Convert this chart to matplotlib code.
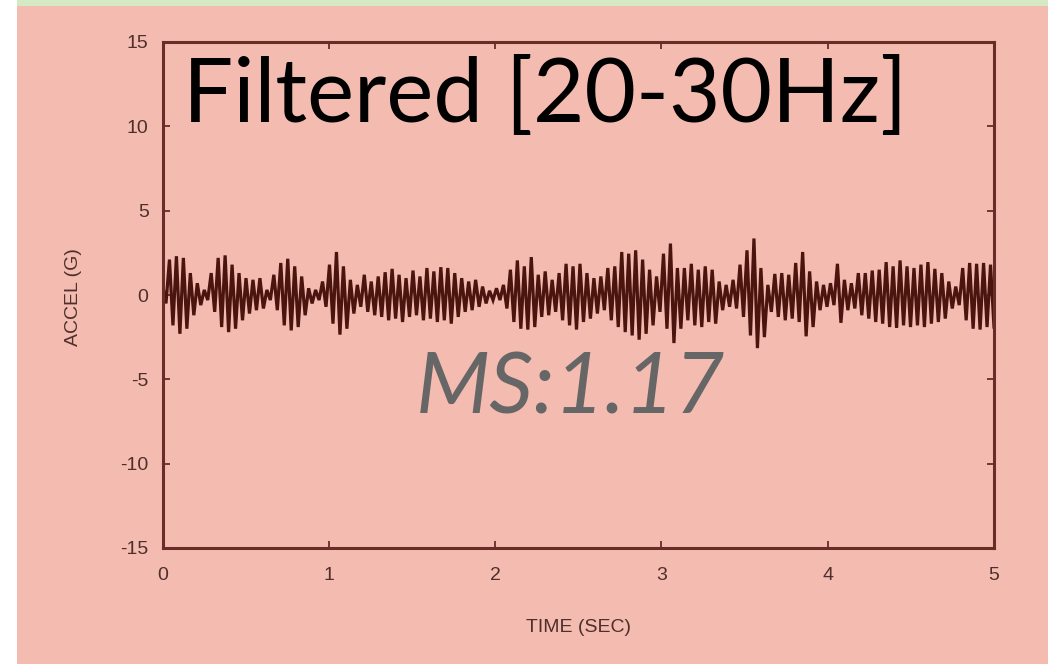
import numpy as np
import matplotlib
matplotlib.use("Agg")
import matplotlib.pyplot as plt
from matplotlib.patches import Rectangle

plt.rcParams["axes.unicode_minus"] = False

# ---- data ----
TIME_RANGE = (0.0, 5.0)
# positive peaks of each oscillation cycle (G)
peak_hi = [0.6, 2.1, 2.3, 2.2, 1.3, 0.7, 0.3, 1.3, 2.2, 2.35,
           1.8, 1.3, 1.0, 0.9, 1.0, 0.3, 1.2, 1.9, 2.15, 1.7,
           1.1, 0.4, 0.3, 0.8, 1.8, 2.55, 1.7, 0.9, 0.6, 1.2,
           0.8, 1.1, 1.35, 1.55, 1.2, 1.0, 1.45, 1.1, 1.6, 1.4,
           1.65, 1.6, 1.3, 1.0, 0.8, 0.9, 0.5, 0.25, 0.4, 0.6,
           1.5, 2.05, 1.7, 2.25, 1.2, 1.4, 0.9, 1.3, 1.85, 1.7,
           1.85, 1.3, 1.0, 1.1, 1.6, 1.7, 2.55, 2.45, 2.65, 2.1,
           1.5, 1.1, 2.45, 3.05, 1.6, 1.6, 1.85, 1.5, 1.7, 1.5,
           0.8, 0.6, 0.9, 1.8, 2.65, 3.35, 1.6, 0.6, 1.25, 1.3,
           1.2, 1.9, 2.55, 1.4, 0.8, 0.6, 0.7, 1.85, 0.9, 0.7,
           1.3, 1.3, 1.45, 1.5, 1.95, 1.7, 2.05, 1.7, 1.6, 1.8,
           1.95, 1.55, 1.3, 0.8, 0.5, 1.6, 1.9, 1.85, 1.9, 1.8]
# negative troughs of each oscillation cycle (G)
peak_lo = [-0.5, -1.8, -2.3, -2.0, -1.2, -0.6, -0.3, -1.0, -1.9, -2.2,
           -2.0, -1.5, -1.1, -0.9, -0.8, -0.3, -0.9, -1.8, -2.1, -1.9,
           -1.2, -0.5, -0.3, -0.7, -1.7, -2.35, -2.0, -1.1, -0.7, -1.0,
           -1.2, -1.3, -1.5, -1.4, -1.6, -1.3, -1.2, -1.5, -1.4, -1.6,
           -1.5, -1.7, -1.3, -1.0, -0.9, -0.7, -0.5, -0.3, -0.3, -0.8,
           -1.6, -2.0, -2.05, -1.9, -1.3, -1.2, -1.0, -1.5, -1.8, -2.05,
           -1.6, -1.4, -1.1, -0.9, -1.5, -1.9, -2.2, -2.4, -2.65, -2.3,
           -1.8, -1.0, -2.0, -2.85, -2.0, -1.5, -1.8, -1.9, -1.6, -1.7,
           -0.9, -0.7, -0.8, -1.3, -2.4, -3.15, -2.5, -1.0, -1.3, -1.5,
           -1.4, -1.6, -2.45, -1.9, -0.9, -0.7, -0.6, -1.65, -0.9, -0.8,
           -1.2, -1.4, -1.6, -1.7, -1.9, -1.95, -1.8, -1.9, -1.8, -1.9,
           -1.7, -1.6, -1.4, -0.8, -0.6, -1.5, -2.0, -2.05, -1.9, -1.9]

x_ticks = [0, 1, 2, 3, 4, 5]
y_ticks = [-15, -10, -5, 0, 5, 10, 15]
title_text = "Filtered [20-30Hz]"
note_text = "MS:1.17"
x_label = "TIME (SEC)"
y_label = "ACCEL (G)"

# interleave peaks and troughs into one trace
accel = np.empty(len(peak_hi) * 2)
accel[0::2] = peak_hi
accel[1::2] = peak_lo
time = np.linspace(TIME_RANGE[0], TIME_RANGE[1], accel.size)

# ---- styling ----
W, H = 1048, 664
PINK = "#f4bbb0"
GREEN = "#d4e9c4"
SPINE = "#6a2c26"
TICKC = "#4f2f2b"
TRACE = "#4a150f"

fig = plt.figure(figsize=(W / 100, H / 100), dpi=100, facecolor="white")
fig.patches.append(Rectangle((17 / W, 0), 1 - 17 / W, 1 - 6 / H,
                             transform=fig.transFigure, facecolor=PINK,
                             edgecolor="none", zorder=-10))
fig.patches.append(Rectangle((17 / W, 1 - 6 / H), 1 - 17 / W, 6 / H,
                             transform=fig.transFigure, facecolor=GREEN,
                             edgecolor="none", zorder=-10))

left, right, top, bottom = 162.5, 994, 42, 548
ax = fig.add_axes([left / W, 1 - bottom / H, (right - left) / W, (bottom - top) / H])
ax.set_facecolor("none")

ax.plot(time, accel, color=TRACE, lw=2.3, solid_joinstyle="miter")

ax.set_xlim(*TIME_RANGE)
ax.set_ylim(-15, 15)
ax.set_xticks(x_ticks)
ax.set_yticks(y_ticks)

tick_font = ["Liberation Sans"]
ax.tick_params(direction="in", length=5, width=1.3, color=SPINE,
               top=True, right=True, labelsize=14, labelcolor=TICKC)
for lab in ax.get_xticklabels() + ax.get_yticklabels():
    lab.set_family(tick_font)
ax.tick_params(axis="x", pad=14)
ax.tick_params(axis="y", pad=10)
for s in ax.spines.values():
    s.set_color(SPINE)
    s.set_linewidth(2.2)

fig.text(578 / W, 1 - 627 / H, x_label, ha="center", va="center",
         fontsize=14, color=TICKC, family=tick_font)
fig.text(73 / W, 1 - 297 / H, y_label, ha="center", va="center",
         rotation=90, fontsize=14, color=TICKC, family=tick_font)

fig.text(183 / W, 1 - 122 / H, title_text, ha="left", va="baseline",
         fontsize=64, color="black", family=["Lato", "DejaVu Sans"])
fig.text(416 / W, 1 - 413 / H, note_text, ha="left", va="baseline",
         fontsize=62, color="#666666", style="italic",
         family=["Lato", "DejaVu Sans"])

fig.savefig("out.png", dpi=100, facecolor="white")
